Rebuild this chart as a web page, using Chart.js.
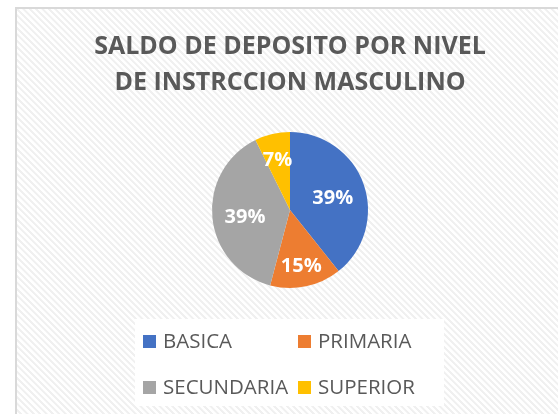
<!DOCTYPE html>
<html>
<head>
<meta charset="utf-8">
<script src="https://cdn.jsdelivr.net/npm/chart.js@4/dist/chart.umd.min.js"></script>
<style>
    html, body { margin: 0; padding: 0; background: #fff; }
    #wrap { position: relative; width: 558px; height: 414px; overflow: hidden; }
    #frame {
        position: absolute; left: 15px; top: 7px; width: 600px; height: 450px;
        border-left: 2px solid #d9d9d9; border-top: 2px solid #d9d9d9;
        background: repeating-linear-gradient(45deg, #ffffff 0px, #ffffff 2px, #f0f0f0 2.5px, #f0f0f0 4px, #ffffff 4.5px);
    }
    #chart { position: absolute; left: 0; top: 0; }
</style>
</head>
<body>
<div id="wrap">
    <div id="frame"></div>
    <canvas id="chart" width="558" height="414"></canvas>
</div>
<script>
// chart data
const categories = ['BASICA', 'PRIMARIA', 'SECUNDARIA', 'SUPERIOR'];
const depositShare = [39.3, 14.8, 38.6, 7.3];
const sliceColors = ['#4472C4', '#ED7D31', '#A5A5A5', '#FFC000'];
const titleLines = ['SALDO DE DEPOSITO POR NIVEL', 'DE INSTRCCION MASCULINO'];

const textColor = '#595959';
const fontFamily = "'Open Sans', 'Noto Sans', sans-serif";

// percentage labels inside the slices (small slices pushed a bit outward)
const sliceLabels = {
    id: 'sliceLabels',
    afterDatasetsDraw(chart) {
        const ctx = chart.ctx;
        const meta = chart.getDatasetMeta(0);
        const data = chart.data.datasets[0].data;
        const total = data.reduce((a, b) => a + b, 0);
        ctx.save();
        ctx.fillStyle = '#ffffff';
        ctx.font = "bold 20px " + fontFamily;
        ctx.textAlign = 'center';
        ctx.textBaseline = 'middle';
        meta.data.forEach((arc, i) => {
            const p = arc.getProps(['x', 'y', 'startAngle', 'endAngle', 'outerRadius']);
            const mid = (p.startAngle + p.endAngle) / 2;
            const share = data[i] / total;
            const r = p.outerRadius * (share > 0.3 ? 0.58 : 0.7);
            ctx.fillText(Math.round(share * 100) + '%', p.x + Math.cos(mid) * r, p.y + Math.sin(mid) * r + 3);
        });
        ctx.restore();
    }
};

// two-column legend on a white box, like the spreadsheet one
const boxLegend = {
    id: 'boxLegend',
    afterDraw(chart) {
        const ctx = chart.ctx;
        ctx.save();
        ctx.fillStyle = '#ffffff';
        ctx.fillRect(135, 319, 309, 87);
        ctx.font = "20.5px " + fontFamily;
        ctx.textBaseline = 'middle';
        ctx.textAlign = 'left';
        const colX = [143, 298];
        const rowY = [341, 387];
        chart.data.labels.forEach((label, i) => {
            const x = colX[i % 2];
            const y = rowY[Math.floor(i / 2)];
            ctx.fillStyle = chart.data.datasets[0].backgroundColor[i];
            ctx.fillRect(x, y - 6, 13, 13);
            ctx.fillStyle = textColor;
            ctx.fillText(label, x + 20, y + 1);
        });
        ctx.restore();
    }
};

new Chart(document.getElementById('chart'), {
    type: 'pie',
    data: {
        labels: categories,
        datasets: [{
            data: depositShare,
            backgroundColor: sliceColors,
            borderWidth: 0
        }]
    },
    options: {
        responsive: false,
        animation: false,
        layout: { padding: { left: 22, right: 0, top: 0, bottom: 126 } },
        plugins: {
            legend: { display: false },
            tooltip: { enabled: false },
            title: {
                display: true,
                text: titleLines,
                color: textColor,
                font: { size: 25, weight: 'bold', family: fontFamily, lineHeight: 1.44 },
                padding: { top: 29, bottom: 31 }
            }
        }
    },
    plugins: [sliceLabels, boxLegend]
});
</script>
</body>
</html>
